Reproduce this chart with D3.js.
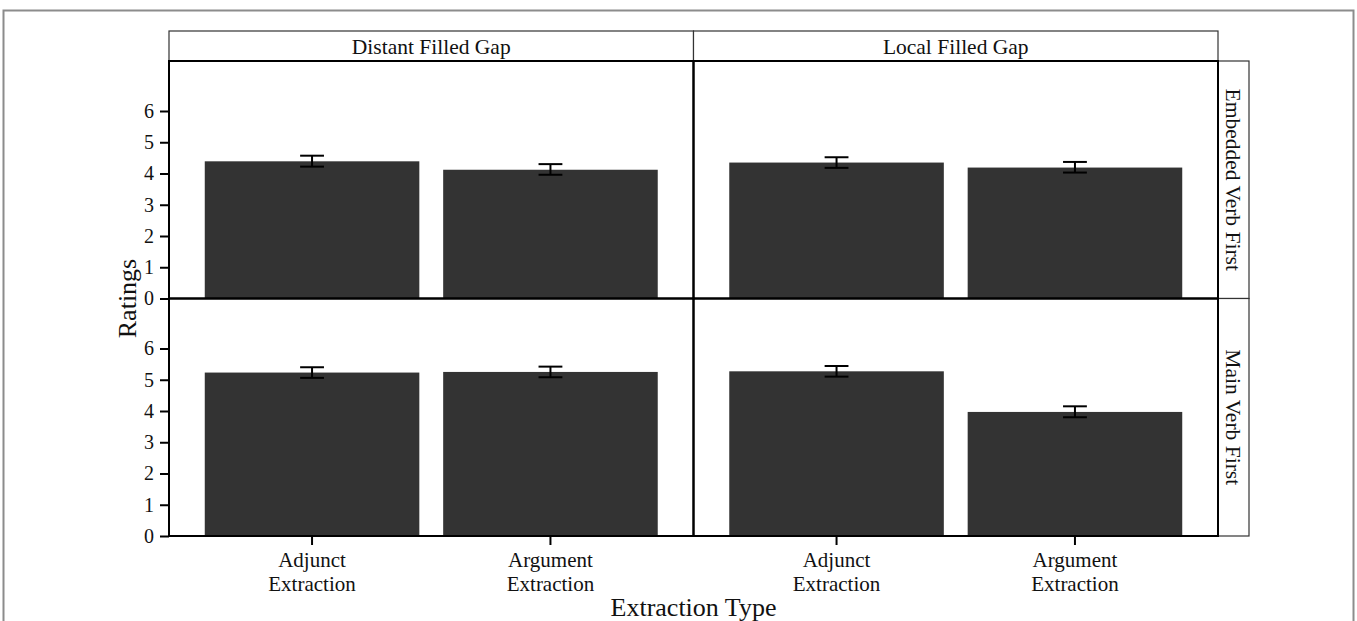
<!DOCTYPE html>
<html>
<head>
<meta charset="utf-8">
<script src="https://cdn.jsdelivr.net/npm/d3@7"></script>
<style>
  body { margin: 0; background: #fff; }
  text { font-family: "Liberation Serif", "DejaVu Serif", serif; fill: #111; }
</style>
</head>
<body>
<div id="chart"></div>
<script>
// facets and categories
const colFacets = ['Distant Filled Gap', 'Local Filled Gap'];
const rowFacets = ['Embedded Verb First', 'Main Verb First'];
const extraction = ['Adjunct', 'Argument'];
const tickLabels = [['Adjunct', 'Extraction'], ['Argument', 'Extraction']];
const yTicks = [0, 1, 2, 3, 4, 5, 6];

// mean ratings (order: adjunct, argument)
const distantEmbedded = [4.39, 4.12];
const localEmbedded = [4.35, 4.19];
const distantMain = [5.23, 5.25];
const localMain = [5.27, 3.97];

// error bar ends
const distantEmbeddedLo = [4.22, 3.96];
const distantEmbeddedHi = [4.57, 4.30];
const localEmbeddedLo = [4.18, 4.03];
const localEmbeddedHi = [4.52, 4.37];
const distantMainLo = [5.06, 5.08];
const distantMainHi = [5.40, 5.42];
const localMainLo = [5.10, 3.80];
const localMainHi = [5.44, 4.15];

const panels = [
  {row: 0, col: 0, mean: distantEmbedded, lo: distantEmbeddedLo, hi: distantEmbeddedHi},
  {row: 0, col: 1, mean: localEmbedded, lo: localEmbeddedLo, hi: localEmbeddedHi},
  {row: 1, col: 0, mean: distantMain, lo: distantMainLo, hi: distantMainHi},
  {row: 1, col: 1, mean: localMain, lo: localMainLo, hi: localMainHi}
];

const chartWidth = 1357;
const chartHeight = 621;
const padLeft = 169;
const padTop = 61;
const panelW = 524.5;
const panelH = 237.5;

const svg = d3.select('#chart')
  .append('svg')
  .attr('width', chartWidth)
  .attr('height', chartHeight);

// outer frame
svg.append('rect')
  .attr('x', 3.5).attr('y', 10.5)
  .attr('width', 1350).attr('height', 640)
  .attr('fill', 'none')
  .attr('stroke', '#8c8c8c')
  .attr('stroke-width', 2);

const x = d3.scaleBand()
  .domain(extraction)
  .range([0, panelW])
  .paddingInner(0.1)
  .paddingOuter(0.15);

const y = d3.scaleLinear()
  .domain([0, 7.6])
  .range([panelH, 0]);

const capW = x.step() * 0.1;

panels.forEach(p => {
  const g = svg.append('g')
    .attr('transform', `translate(${padLeft + p.col * panelW}, ${padTop + p.row * panelH})`);

  const rows = extraction.map((c, i) => ({c, mean: p.mean[i], lo: p.lo[i], hi: p.hi[i]}));

  g.selectAll('rect.bar')
    .data(rows)
    .enter()
    .append('rect')
    .attr('class', 'bar')
    .attr('x', d => x(d.c))
    .attr('y', d => y(d.mean))
    .attr('width', x.bandwidth())
    .attr('height', d => y(0) - y(d.mean))
    .attr('fill', '#333333');

  // error bars
  const eb = g.selectAll('g.err')
    .data(rows)
    .enter()
    .append('g')
    .attr('class', 'err')
    .attr('stroke', '#000')
    .attr('stroke-width', 2);
  eb.append('line')
    .attr('x1', d => x(d.c) + x.bandwidth() / 2)
    .attr('x2', d => x(d.c) + x.bandwidth() / 2)
    .attr('y1', d => y(d.lo))
    .attr('y2', d => y(d.hi));
  eb.append('line')
    .attr('x1', d => x(d.c) + x.bandwidth() / 2 - capW / 2)
    .attr('x2', d => x(d.c) + x.bandwidth() / 2 + capW / 2)
    .attr('y1', d => y(d.hi))
    .attr('y2', d => y(d.hi));
  eb.append('line')
    .attr('x1', d => x(d.c) + x.bandwidth() / 2 - capW / 2)
    .attr('x2', d => x(d.c) + x.bandwidth() / 2 + capW / 2)
    .attr('y1', d => y(d.lo))
    .attr('y2', d => y(d.lo));

  // panel border
  g.append('rect')
    .attr('width', panelW)
    .attr('height', panelH)
    .attr('fill', 'none')
    .attr('stroke', '#000')
    .attr('stroke-width', 2);

  // y axis on left column
  if (p.col === 0) {
    const yAxis = d3.axisLeft(y)
      .tickValues(yTicks)
      .tickSize(9)
      .tickPadding(6);
    const ya = g.append('g').call(yAxis);
    ya.select('.domain').remove();
    ya.selectAll('line').attr('stroke', '#000').attr('stroke-width', 2);
    ya.selectAll('text')
      .style('font-family', '"Liberation Serif", serif')
      .style('font-size', '20px')
      .attr('fill', '#111');
  }

  // x axis on bottom row
  if (p.row === 1) {
    const xAxis = d3.axisBottom(x)
      .tickSize(9)
      .tickFormat('');
    const xa = g.append('g')
      .attr('transform', `translate(0, ${panelH})`)
      .call(xAxis);
    xa.select('.domain').remove();
    xa.selectAll('line').attr('stroke', '#000').attr('stroke-width', 2);
    extraction.forEach((c, i) => {
      const t = xa.append('text')
        .attr('x', x(c) + x.bandwidth() / 2)
        .attr('y', 31)
        .attr('text-anchor', 'middle')
        .style('font-family', '"Liberation Serif", serif')
        .style('font-size', '21px')
        .attr('fill', '#111');
      tickLabels[i].forEach((line, k) => {
        t.append('tspan')
          .attr('x', x(c) + x.bandwidth() / 2)
          .attr('dy', k === 0 ? 0 : 24)
          .text(line);
      });
    });
  }
});

// column strips
colFacets.forEach((f, i) => {
  svg.append('rect')
    .attr('x', padLeft + i * panelW)
    .attr('y', 31)
    .attr('width', panelW)
    .attr('height', padTop - 31)
    .attr('fill', '#fff')
    .attr('stroke', '#333')
    .attr('stroke-width', 1.2);
  svg.append('text')
    .attr('x', padLeft + i * panelW + panelW / 2)
    .attr('y', 53.5)
    .attr('text-anchor', 'middle')
    .style('font-size', '21.5px')
    .text(f);
});

// row strips
rowFacets.forEach((f, i) => {
  const sx = padLeft + 2 * panelW;
  svg.append('rect')
    .attr('x', sx)
    .attr('y', padTop + i * panelH)
    .attr('width', 31)
    .attr('height', panelH)
    .attr('fill', '#fff')
    .attr('stroke', '#333')
    .attr('stroke-width', 1.2);
  const cy = padTop + i * panelH + panelH / 2;
  svg.append('text')
    .attr('transform', `translate(${sx + 8}, ${cy}) rotate(90)`)
    .attr('text-anchor', 'middle')
    .style('font-size', '21.5px')
    .text(f);
});

// redraw the panel edges over the strips
svg.append('rect')
  .attr('x', padLeft).attr('y', padTop)
  .attr('width', 2 * panelW).attr('height', 2 * panelH)
  .attr('fill', 'none')
  .attr('stroke', '#000')
  .attr('stroke-width', 2);

// axis titles
svg.append('text')
  .attr('x', padLeft + panelW)
  .attr('y', 616)
  .attr('text-anchor', 'middle')
  .style('font-size', '26px')
  .text('Extraction Type');

svg.append('text')
  .attr('transform', `translate(136, ${padTop + panelH}) rotate(-90)`)
  .attr('text-anchor', 'middle')
  .style('font-size', '26px')
  .text('Ratings');
</script>
</body>
</html>
